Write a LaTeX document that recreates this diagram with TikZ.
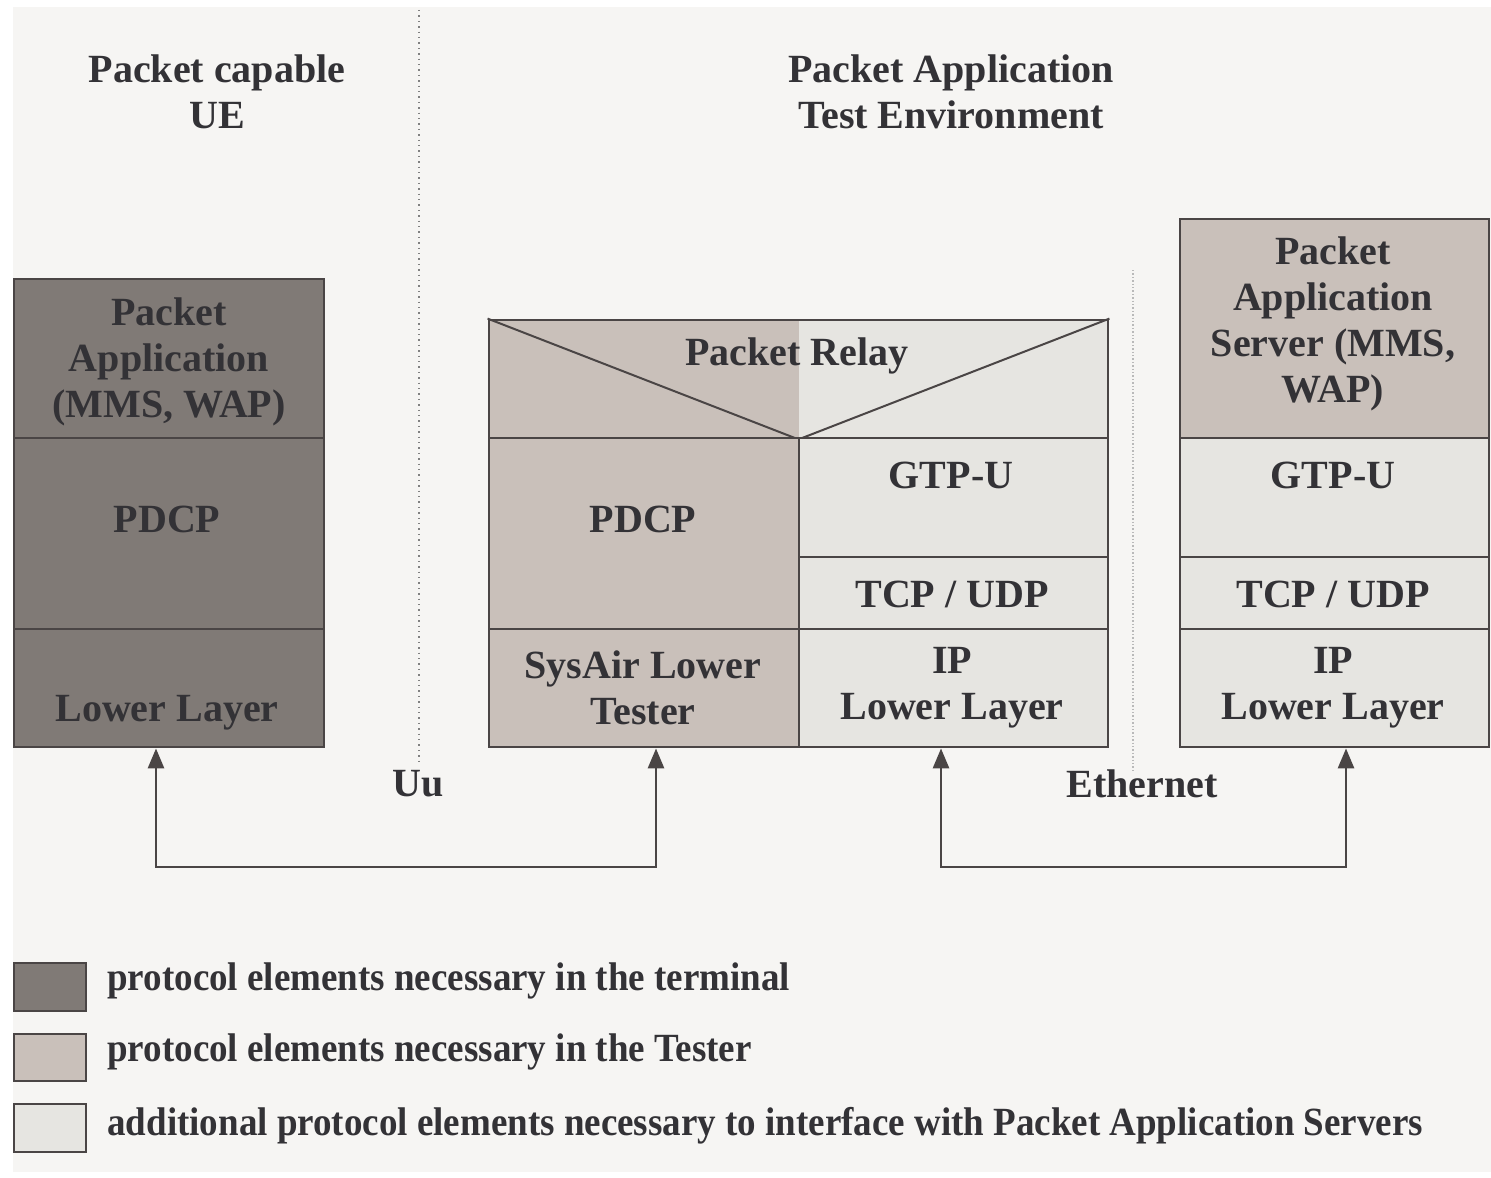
\documentclass[tikz,border=0pt]{standalone}
\usepackage{fontspec}
\setmainfont{Liberation Serif}
\newfontfamily\keyfont[FakeStretch=0.925]{Liberation Serif}
\usetikzlibrary{arrows.meta,fit}

\definecolor{bgc}{HTML}{F6F5F3}
\definecolor{termc}{HTML}{807A76}
\definecolor{testc}{HTML}{C9C0BA}
\definecolor{addc}{HTML}{E6E5E1}
\definecolor{edgec}{HTML}{4A4545}
\definecolor{inkc}{HTML}{333236}

\tikzset{
  cell/.style={draw=edgec, line width=1.4pt, inner sep=0pt},
  lbl/.style={text=inkc, font=\fontsize{20}{23}\selectfont\bfseries, align=center, inner sep=0pt},
  keylbl/.style={lbl, font=\keyfont\fontsize{20}{23}\selectfont\bfseries, anchor=base west},
  link/.style={draw=edgec, line width=1.4pt, {Triangle[length=10pt,width=8pt]}-{Triangle[length=10pt,width=8pt]}},
}

\begin{document}
\begin{tikzpicture}[x=0.5pt,y=-0.5pt]

    \useasboundingbox (0,0) rectangle (1491,1177);
    \fill[bgc] (13,7) rectangle (1491,1172);

    % Titles
    \node[lbl] (uetitle) at (217,92) {Packet capable\\UE};
    \node[lbl] (pattitle) at (951,92) {Packet Application\\Test Environment};

    % Separators
    \draw[dotted, gray, line width=0.7pt] (419,10) -- (419,765);
    \draw[densely dotted, gray!55, line width=0.7pt] (1133,270) -- (1133,770);

    % UE stack
    \node[cell, fill=termc, fit={(14,279) (324,438)}] (ueapp) {};
    \node[cell, fill=termc, fit={(14,438) (324,629)}] (uepdcp) {};
    \node[cell, fill=termc, fit={(14,629) (324,747)}] (uelow) {};
    \node[lbl] (ueappt) at (169,362) {Packet\\Application\\(MMS, WAP)};
    \node[lbl] (uepdcpt) at (167,519) {PDCP};
    \node[lbl] (uelowt) at (167,713) {Lower Layer};

    % Tester stack
    \fill[testc] (489,320) rectangle (799,438);
    \fill[addc] (799,320) rectangle (1108,438);
    \node[cell, fit={(489,320) (1108,438)}] (relay) {};
    \draw[edgec, line width=1pt] (relay.north west) -- (relay.south) -- (relay.north east);
    \node[lbl] (relayt) at (797,356) {Packet Relay};

    \node[cell, fill=testc, fit={(489,438) (799,629)}] (tpdcp) {};
    \node[cell, fill=testc, fit={(489,629) (799,747)}] (tsys) {};
    \node[cell, fill=addc, fit={(799,438) (1108,557)}] (tgtp) {};
    \node[cell, fill=addc, fit={(799,557) (1108,629)}] (ttcp) {};
    \node[cell, fill=addc, fit={(799,629) (1108,747)}] (tip) {};
    \node[lbl] (tpdcpt) at (643,519) {PDCP};
    \node[lbl] (tsyst) at (643,688) {SysAir Lower\\Tester};
    \node[lbl] (tgtpt) at (951,475) {GTP-U};
    \node[lbl] (ttcpt) at (952,594) {TCP / UDP};
    \node[lbl] (tipt) at (952,688) {IP\\Lower Layer};

    % Server stack
    \node[cell, fill=testc, fit={(1180,219) (1489,438)}] (sapp) {};
    \node[cell, fill=addc, fit={(1180,438) (1489,557)}] (sgtp) {};
    \node[cell, fill=addc, fit={(1180,557) (1489,629)}] (stcp) {};
    \node[cell, fill=addc, fit={(1180,629) (1489,747)}] (sip) {};
    \node[lbl] (sappt) at (1333,324) {Packet\\Application\\Server (MMS,\\WAP)};
    \node[lbl] (sgtpt) at (1333,475) {GTP-U};
    \node[lbl] (stcpt) at (1333,594) {TCP / UDP};
    \node[lbl] (sipt) at (1333,688) {IP\\Lower Layer};

    % Links
    \coordinate (uuleft) at (156,867);
    \coordinate (uuright) at (656,867);
    \coordinate (ethleft) at (941,867);
    \coordinate (ethright) at (1346,867);
    \draw[link] (uelow.south -| uuleft) -- (uuleft) -- (uuright) -- (tsys.south -| uuright);
    \draw[link] (tip.south -| ethleft) -- (ethleft) -- (ethright) -- (sip.south -| ethright);
    \node[lbl] (uut) at (418,784) {Uu};
    \node[lbl] (etht) at (1142,784) {Ethernet};

    % Legend
    \node[cell, fill=termc, fit={(14,963) (86,1011)}] (keyterm) {};
    \node[cell, fill=testc, fit={(14,1034) (86,1081)}] (keytest) {};
    \node[cell, fill=addc, fit={(14,1104) (86,1152)}] (keyadd) {};
    \node[keylbl] (keytermt) at (107,990) {protocol elements necessary in the terminal};
    \node[keylbl] (keytestt) at (107,1061) {protocol elements necessary in the Tester};
    \node[keylbl] (keyaddt) at (107,1135) {additional protocol elements necessary to interface with Packet Application Servers};

\end{tikzpicture}
\end{document}
